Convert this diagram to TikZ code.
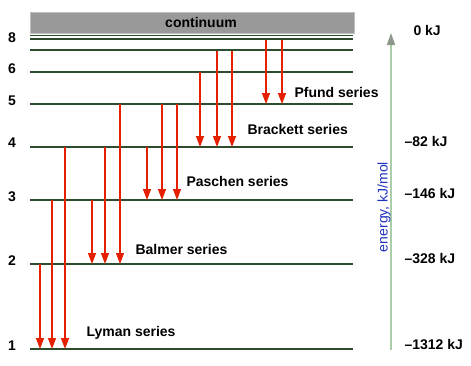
\documentclass[tikz,border=0pt]{standalone}
\usepackage{fontspec}
\setmainfont{Liberation Sans}
\usetikzlibrary{arrows.meta}
\definecolor{levelgreen}{RGB}{45,75,45}
\definecolor{transred}{RGB}{228,32,0}
\definecolor{axisgreen}{RGB}{170,205,170}
\definecolor{axisgray}{RGB}{140,152,140}
\definecolor{labelblue}{RGB}{30,50,190}
\tikzset{
  level/.style={levelgreen,line width=1.3pt},
  trans/.style={transred,line width=1.4pt,-{Triangle[length=11pt,width=8pt]}},
  lbl/.style={font=\fontsize{14}{16}\selectfont\bfseries},
  axis/.style={axisgreen,line width=1.5pt,-{Triangle[length=12pt,width=8pt,color=axisgray]}},
}
\begin{document}
\begin{tikzpicture}[x=1pt,y=-1pt]
\useasboundingbox (0,0) rectangle (471,365);
% continuum
\node[draw=black!25,fill=black!40,minimum width=324pt,minimum height=21pt,inner sep=0pt,anchor=north west] (cont) at (30,12) {};
\node[lbl] (contlbl) at (201,22) {continuum};
% levels
\foreach \n/\y in {1/349,2/264,3/200,4/147,5/104,6/72,7/50,8/39,9/35.5}
  \draw[level] (30,\y) -- (353,\y);
\foreach \n/\y in {1/346,2/261,3/197,4/143,5/101,6/69,8/38}
  \node[lbl] (num\n) at (12,\y) {\n};
% transitions
\foreach \i/\x/\ya/\yb in {1/40/264/349,2/52/200/349,3/65/147/349,
    4/92/200/264,5/105/147/264,6/120/104/264,
    7/147/147/200,8/162/104/200,9/177/104/200,
    10/200/72/147,11/217/51/147,12/232/51/147,
    13/266/40/104,14/282/40/104} {
  \coordinate (s\i) at (\x,\ya);
  \coordinate (e\i) at (\x,\yb);
  \draw[trans] (s\i) -- (e\i);
}
\node[lbl,anchor=west] (lyman) at (83,333) {Lyman series};
\node[lbl,anchor=west] (balmer) at (132,249) {Balmer series};
\node[lbl,anchor=west] (paschen) at (183,181) {Paschen series};
\node[lbl,anchor=west] (brackett) at (244,129) {Brackett series};
\node[lbl,anchor=west] (pfund) at (291,92) {Pfund series};
% energy axis
\coordinate (axbot) at (391,350);
\coordinate (axtop) at (391,33);
\draw[axis] (axbot) -- (axtop);
\node[rotate=90,labelblue,font=\fontsize{14}{16}\selectfont] (elbl) at (384,207) {energy, kJ/mol};
\node[lbl,anchor=west] (e0) at (410,30) {0 kJ};
\node[lbl,anchor=west] (e4) at (401,141) {–82 kJ};
\node[lbl,anchor=west] (e3) at (401,193) {–146 kJ};
\node[lbl,anchor=west] (e2) at (401,258) {–328 kJ};
\node[lbl,anchor=west] (e1) at (401,344) {–1312 kJ};
\end{tikzpicture}
\end{document}
